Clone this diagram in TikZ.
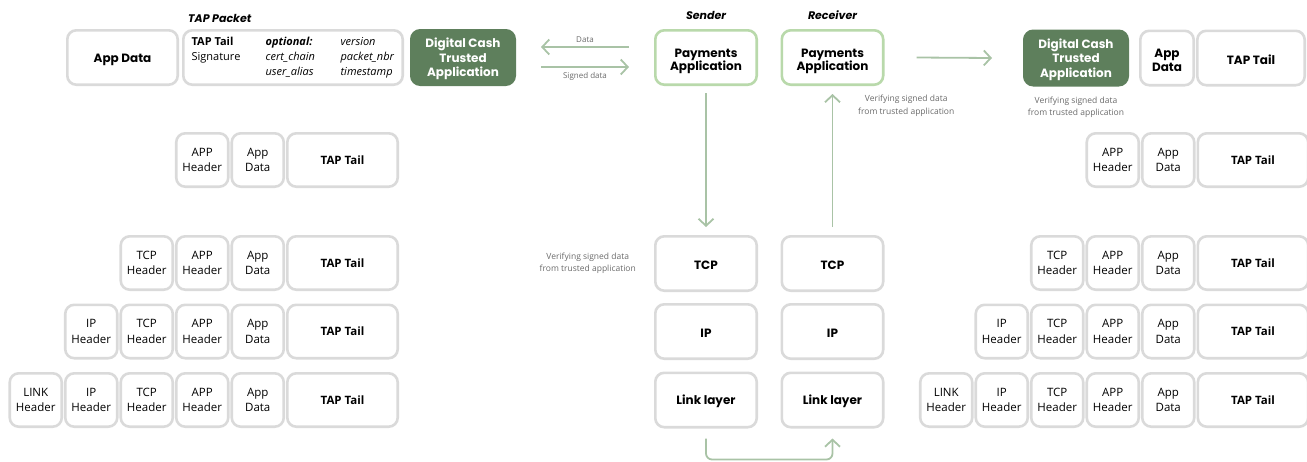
\documentclass[tikz,border=0pt]{standalone}
\usepackage{fontspec}
\setmainfont{Open Sans}
\newfontfamily\popfont{Poppins}
\usetikzlibrary{arrows.meta,positioning}
\definecolor{boxgray}{HTML}{DADADA}
\definecolor{tagreen}{HTML}{5E7F5C}
\definecolor{paygreen}{HTML}{B9D9AB}
\definecolor{arrgreen}{HTML}{A9C3A6}
\definecolor{notegray}{HTML}{6A6A6A}
\newcommand{\lift}[1][12.5pt]{\rule{0pt}{#1}}
\tikzset{
  blk/.style={draw=boxgray, line width=2.6pt, rounded corners=9pt, align=center, inner sep=0pt},
  hdr/.style={blk, minimum width=52pt, minimum height=53.4pt, font=\fontsize{11.5}{15.5}\selectfont},
  tail/.style={blk, minimum width=110.4pt, minimum height=53.4pt, font=\bfseries\fontsize{11.5}{15}\selectfont},
  bigtxt/.style={font=\popfont\bfseries\fontsize{12}{14.5}\selectfont, execute at begin node={\lift}},
  tabox/.style={blk, draw=tagreen, fill=tagreen, text=white, bigtxt, minimum width=103.4pt, minimum height=54.4pt},
  paybox/.style={blk, draw=paygreen, bigtxt, font=\popfont\bfseries\fontsize{12}{13.5}\selectfont, minimum width=101.4pt, minimum height=54.4pt},
  layer/.style={blk, bigtxt, minimum width=101.4pt, minimum height=54.4pt},
  note/.style={text=notegray, align=center, inner sep=0pt, font=\fontsize{8.5}{12.5}\selectfont},
  head/.style={inner sep=0pt, font=\popfont\bfseries\itshape\fontsize{11}{13}\selectfont},
  arr/.style={draw=arrgreen, line width=1.8pt, -{Straight Barb[length=7pt,width=15pt]}},
}
\begin{document}
\begin{tikzpicture}[x=1pt, y=-1pt]
  \useasboundingbox (0,0) rectangle (1307,461);

  % top row, left
  \node[blk, bigtxt, minimum width=110.4pt, minimum height=54.4pt] (appd) at (122.5,57.5) {App Data};
  \node[blk, minimum width=219.4pt, minimum height=54.4pt, align=left, font=\fontsize{11}{15}\selectfont] (tap) at (293,57.5)
    {\makebox[74pt][l]{\bfseries TAP Tail}\makebox[75pt][l]{\bfseries\itshape optional:}\textit{version}\\
     \makebox[74pt][l]{Signature}\makebox[75pt][l]{\textit{cert\_chain}}\textit{packet\_nbr}\\
     \makebox[74pt][l]{}\makebox[75pt][l]{\textit{user\_alias}}\textit{timestamp}};
  \node[head, anchor=south west] (taplbl) at ([xshift=6pt,yshift=6pt]tap.north west) {TAP Packet};
  \node[tabox] (ldcta) at (463,57.5) {\lift[13pt]Digital Cash\\Trusted\\Application};

  % sender / receiver
  \node[paybox] (spay) at (706,57.5) {\lift[16pt]Payments\\Application};
  \node[paybox] (rpay) at (832.5,57.5) {\lift[16pt]Payments\\Application};
  \node[head, above=9pt of spay] (sendlbl) {Sender};
  \node[head, above=9pt of rpay] (recvlbl) {Receiver};

  \node[layer] (stcp) at (706,263.5) {TCP};
  \node[layer] (sip) at (706,331.5) {IP};
  \node[layer] (slink) at (706,400) {Link layer};
  \node[layer] (rtcp) at (832.5,263.5) {TCP};
  \node[layer] (rip) at (832.5,331.5) {IP};
  \node[layer] (rlink) at (832.5,400) {Link layer};

  % top row, right
  \node[tabox] (rdcta) at (1076,58) {\lift[13pt]Digital Cash\\Trusted\\Application};
  \node[blk, bigtxt, font=\popfont\bfseries\fontsize{12}{13.5}\selectfont, minimum width=53.4pt, minimum height=54.4pt] (rappd) at (1167,58) {\lift[13pt]App\\Data};
  \node[blk, bigtxt, minimum width=107.4pt, minimum height=54.4pt] (rtail) at (1251,58) {TAP Tail};

  % notes
  \node[note, left=18pt of stcp] (lnote) {Verifying signed data\\from trusted application};
  \node[note, anchor=north west] (unote) at ([xshift=25.5pt,yshift=-9pt]rpay.south) {Verifying signed data\\from trusted application};
  \node[note, below=10pt of rdcta] (rnote) {Verifying signed data\\from trusted application};

  % arrows
  \draw[arr] ([xshift=-25pt,yshift=10.5pt]spay.west) -- node[note, font=\fontsize{8}{10}\selectfont, above=4pt] (datalbl) {Data} ([xshift=25pt,yshift=10.5pt]ldcta.east);
  \draw[arr] ([xshift=25pt,yshift=-9.5pt]ldcta.east) -- node[note, font=\fontsize{8}{10}\selectfont, below=5pt] (signlbl) {Signed data} ([xshift=-25pt,yshift=-9.5pt]spay.west);
  \draw[arr] ([xshift=32pt]rpay.east) -- ([xshift=-31pt]rdcta.west);
  \draw[arr] ([yshift=-7pt]spay.south) -- ([yshift=8pt]stcp.north);
  \draw[arr] ([yshift=8pt]rtcp.north) -- ([yshift=-8pt]rpay.south);
  \draw[arr, rounded corners=6pt] ([yshift=-10pt]slink.south) -- ++(0,21) -| ([yshift=-10pt]rlink.south);

  % packet stacks
  \foreach \sd/\dx in {L/0, R/910.5}{
    \foreach \r/\yc/\first in {1/160/3, 2/263/2, 3/331.5/1, 4/400/0}{
      \foreach \c/\lbl in {0/{LINK\\Header}, 1/{IP\\Header}, 2/{TCP\\Header}, 3/{APP\\Header}, 4/{App\\Data}}{
        \ifnum\c<\first\relax\else
          \node[hdr] (\sd\r-\c) at ({35.75+55.5*\c+\dx},\yc) {\lbl};
        \fi
      }
      \node[tail] (\sd\r-tail) at ({342.5+\dx},\yc) {TAP Tail};
    }
  }
\end{tikzpicture}
\end{document}
